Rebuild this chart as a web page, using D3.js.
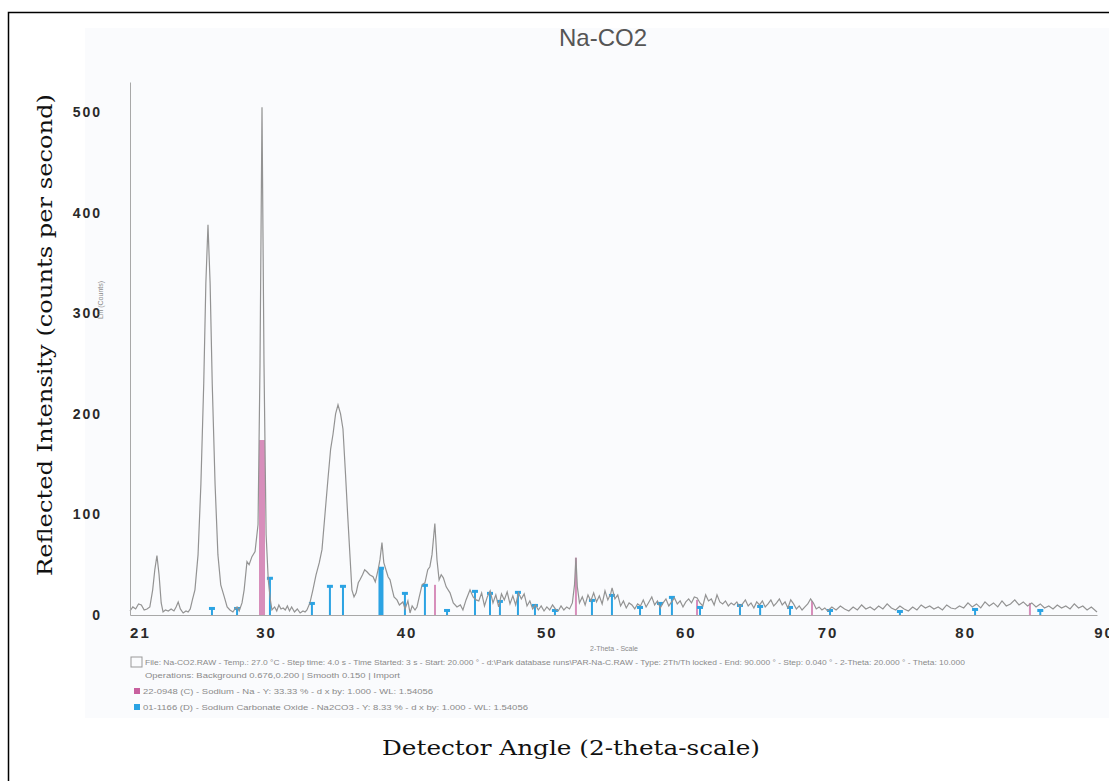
<!DOCTYPE html>
<html lang="en">
<head>
<meta charset="utf-8">
<title>Na-CO2</title>
<script src="https://cdn.jsdelivr.net/npm/d3@7"></script>
<style>
	body { margin: 0; background: #fff; }
	.tick text { font-family: "Liberation Sans", Arial, sans-serif; font-weight: bold; fill: #2a2a2a; letter-spacing: 2px; }
	.domain { stroke: #a8a8a8; }
	.note { font-family: "Liberation Sans", Arial, sans-serif; font-size: 7px; fill: #8a8a8a; }
</style>
</head>
<body>
<div id="chart"></div>
<script>
// measured scan, [2-theta, counts]
var scan = [
	[20.8,4],[21.0,8],[21.2,6],[21.4,11],[21.6,10],[21.8,5],[22.0,6],[22.2,8],[22.4,25],[22.55,45],[22.7,59],[22.85,40],
	[23.0,12],[23.13,3],[23.3,5],[23.5,4],[23.7,6],[23.9,4],[24.05,8],[24.2,13],[24.35,6],[24.55,2],[24.75,4],[24.9,3],
	[25.05,6],[25.2,15],[25.38,25],[25.6,60],[25.8,130],[26.0,230],[26.15,330],[26.3,388],[26.45,330],[26.6,230],[26.8,130],
	[27.0,60],[27.2,30],[27.45,18],[27.65,8],[27.85,5],[28.06,3],[28.2,6],[28.35,8],[28.5,4],[28.7,12],[28.85,25],
	[29.05,53],[29.2,50],[29.4,58],[29.62,63],[29.83,90],[29.97,250],[30.11,505],[30.25,250],[30.4,80],[30.55,35],[30.7,15],
	[30.81,5],[31.0,8],[31.15,4],[31.3,10],[31.45,6],[31.6,7],[31.75,5],[31.9,9],[32.05,4],[32.2,8],[32.4,3],[32.6,6],
	[32.8,2],[33.0,4],[33.15,3],[33.28,5],[33.49,12],[33.7,25],[33.92,40],[34.15,52],[34.34,65],[34.55,100],[34.76,135],
	[34.95,165],[35.12,180],[35.3,200],[35.47,209],[35.65,200],[35.82,185],[36.0,140],[36.15,100],[36.31,60],[36.45,25],
	[36.6,18],[36.75,22],[36.9,32],[37.02,35],[37.2,40],[37.35,45],[37.51,43],[37.7,40],[37.94,38],[38.1,33],[38.3,45],
	[38.43,55],[38.57,72],[38.7,52],[38.85,45],[39.0,38],[39.14,35],[39.3,25],[39.42,18],[39.63,15],[39.8,10],[40.05,13],
	[40.2,6],[40.4,14],[40.55,2],[40.7,9],[40.9,5],[41.04,8],[41.2,18],[41.4,30],[41.6,32],[41.8,45],[41.95,48],[42.1,60],
	[42.3,91],[42.45,55],[42.6,35],[42.75,40],[42.9,37],[43.1,28],[43.37,22],[43.6,12],[43.86,8],[44.1,10],[44.28,5],
	[44.5,15],[44.78,25],[45.0,18],[45.2,15],[45.4,14],[45.6,22],[45.8,9],[46.0,18],[46.2,24],[46.4,12],[46.6,20],[46.8,8],
	[47.0,21],[47.2,15],[47.4,23],[47.6,11],[47.8,19],[48.0,10],[48.2,22],[48.4,16],[48.6,21],[48.8,9],[49.0,14],[49.2,6],
	[49.4,10],[49.6,5],[49.8,9],[50.0,4],[50.2,8],[50.4,5],[50.6,10],[50.8,6],[51.0,4],[51.2,9],[51.4,5],[51.6,8],[51.8,6],
	[52.0,12],[52.15,30],[52.25,57],[52.35,28],[52.5,12],[52.7,18],[52.9,10],[53.1,20],[53.3,14],[53.5,22],[53.7,13],
	[53.9,19],[54.1,11],[54.3,24],[54.5,15],[54.7,21],[54.8,27],[55.0,16],[55.2,20],[55.4,9],[55.6,14],[55.8,7],[56.0,12],
	[56.2,10],[56.4,6],[56.6,11],[56.8,9],[57.0,15],[57.2,8],[57.4,13],[57.6,18],[57.8,10],[58.0,14],[58.2,7],[58.4,12],
	[58.6,16],[58.8,9],[59.0,13],[59.2,17],[59.4,11],[59.6,14],[59.8,8],[60.0,13],[60.2,16],[60.4,12],[60.6,18],[60.8,17],
	[61.0,12],[61.2,9],[61.4,20],[61.6,14],[61.8,16],[62.0,10],[62.2,20],[62.4,13],[62.6,11],[62.8,14],[63.0,9],[63.2,12],
	[63.4,10],[63.6,13],[63.8,8],[64.0,11],[64.2,15],[64.4,9],[64.6,12],[64.8,7],[65.0,13],[65.2,10],[65.4,14],[65.6,8],
	[65.8,11],[66.0,15],[66.2,9],[66.4,12],[66.6,16],[66.8,10],[67.0,13],[67.2,7],[67.4,15],[67.6,11],[67.8,6],[68.0,9],
	[68.2,5],[68.4,8],[68.6,11],[68.8,16],[69.0,12],[69.2,6],[69.4,8],[69.6,5],[69.8,7],[70.0,4],[70.3,8],[70.6,5],[70.9,9],
	[71.2,6],[71.5,4],[71.8,8],[72.1,5],[72.4,10],[72.7,6],[73.0,8],[73.3,5],[73.6,9],[73.9,6],[74.2,11],[74.5,7],[74.8,5],
	[75.1,9],[75.4,6],[75.7,4],[76.0,8],[76.3,5],[76.6,10],[76.9,7],[77.2,9],[77.5,6],[77.8,8],[78.1,5],[78.4,10],[78.7,7],
	[79.0,6],[79.3,9],[79.6,7],[79.9,12],[80.2,8],[80.5,11],[80.8,7],[81.1,13],[81.4,9],[81.7,12],[82.0,8],[82.3,14],
	[82.6,9],[82.9,11],[83.2,15],[83.5,10],[83.8,13],[84.1,9],[84.4,12],[84.7,8],[85.0,11],[85.3,7],[85.6,9],[85.9,6],
	[86.2,10],[86.5,7],[86.8,9],[87.1,6],[87.4,11],[87.7,7],[88.0,9],[88.3,5],[88.6,8],[89.0,3]
];

// reference patterns, [2-theta, counts]
var sodiumSticks = [[30.11,174],[42.31,30],[52.25,57],[60.79,15],[68.9,14],[84.27,12]];
var carbonateSticks = [
	[26.58,7],[28.35,7],[30.67,37],[33.63,12],[34.9,29],[35.82,29],[38.5,47],[40.19,22],[41.6,30],[43.16,5],
	[45.13,24],[46.19,22],[46.89,14],[48.16,23],[49.36,10],[50.77,5],[53.38,15],[54.79,20],[56.77,8],[58.18,12],
	[59.02,18],[61.0,8],[63.82,10],[65.24,9],[67.35,8],[70.17,5],[75.1,4],[80.4,6],[85.0,5]
];

var yTicks = [0, 100, 200, 300, 400, 500];
var xTickValues = [21.5, 30.4, 40.3, 50.2, 60, 70, 79.7, 89.5];
var xTickLabels = ["21", "30", "40", "50", "60", "70", "80", "90"];

var noteLines = [
	"File: Na-CO2.RAW - Temp.: 27.0 \u00b0C - Step time: 4.0 s - Time Started: 3 s - Start: 20.000 \u00b0 - d:\\Park database runs\\PAR-Na-C.RAW - Type: 2Th/Th locked - End: 90.000 \u00b0 - Step: 0.040 \u00b0 - 2-Theta: 20.000 \u00b0 - Theta: 10.000",
	"Operations: Background 0.676,0.200 | Smooth 0.150 | Import",
	"22-0948 (C) - Sodium - Na - Y: 33.33 % - d x by: 1.000 - WL: 1.54056",
	"01-1166 (D) - Sodium Carbonate Oxide - Na2CO3 - Y: 8.33 % - d x by: 1.000 - WL: 1.54056"
];

var w = 1109, h = 781;
var pink = "#c8609e", blue = "#2ba3e3";

var svg = d3.select("#chart").append("svg")
	.attr("width", w).attr("height", h);

// scanned panel tint and frame
svg.append("rect").attr("x", 85).attr("y", 28).attr("width", 1024).attr("height", 690).attr("fill", "#fafbfd");
svg.append("path").attr("d", "M8.5," + h + "V12.5H" + w).attr("fill", "none").attr("stroke", "#000").attr("stroke-width", 1.5);

var x = d3.scaleLinear().domain([20.8, 89]).range([130, 1097]);
var y = d3.scaleLinear().domain([0, 530]).range([615, 82]);

// reference sticks
svg.selectAll(".na").data(sodiumSticks).enter().append("rect")
	.attr("x", function(d) { return x(d[0]) - (d[1] > 100 ? 3 : 1); })
	.attr("width", function(d) { return d[1] > 100 ? 6 : 2; })
	.attr("y", function(d) { return y(d[1]); })
	.attr("height", function(d) { return y(0) - y(d[1]); })
	.attr("fill", pink).attr("opacity", 0.7);

svg.selectAll(".co3").data(carbonateSticks).enter().append("rect")
	.attr("x", function(d) { return x(d[0]) - (d[1] > 40 ? 2.5 : 1); })
	.attr("width", function(d) { return d[1] > 40 ? 5 : 2; })
	.attr("y", function(d) { return y(d[1]); })
	.attr("height", function(d) { return y(0) - y(d[1]); })
	.attr("fill", blue);

svg.selectAll(".cap").data(carbonateSticks).enter().append("rect")
	.attr("x", function(d) { return x(d[0]) - 3; })
	.attr("y", function(d) { return y(d[1]) - 1; })
	.attr("width", 6).attr("height", 3)
	.attr("fill", blue);

// scan line
var line = d3.line()
	.x(function(d) { return x(d[0]); })
	.y(function(d) { return y(d[1]); });

svg.append("path").datum(scan)
	.attr("d", line)
	.attr("fill", "none")
	.attr("stroke", "#939393")
	.attr("stroke-width", 1.2);

// axes
svg.append("g")
	.attr("transform", "translate(0," + y(0) + ")")
	.call(d3.axisBottom(x).tickValues(xTickValues).tickSize(0).tickPadding(12)
		.tickFormat(function(d, i) { return xTickLabels[i]; }))
	.selectAll("text").style("font-size", "15px");

svg.append("g")
	.attr("transform", "translate(" + x(20.8) + ",0)")
	.call(d3.axisLeft(y).tickValues(yTicks).tickSize(0).tickPadding(28))
	.selectAll("text").style("font-size", "14px");

// titles
svg.append("text")
	.attr("x", 603).attr("y", 46)
	.attr("text-anchor", "middle")
	.style("font-family", "'Liberation Sans', Arial, sans-serif")
	.style("font-size", "24px")
	.style("fill", "#555")
	.text("Na-CO2");

svg.append("text")
	.attr("transform", "translate(52,335) rotate(-90)")
	.attr("text-anchor", "middle")
	.attr("textLength", 482).attr("lengthAdjust", "spacingAndGlyphs")
	.style("font-family", "'DejaVu Serif', 'Liberation Serif', serif")
	.style("font-size", "21px")
	.style("fill", "#111")
	.text("Reflected Intensity (counts per second)");

svg.append("text")
	.attr("x", 571).attr("y", 755)
	.attr("text-anchor", "middle")
	.attr("textLength", 378).attr("lengthAdjust", "spacingAndGlyphs")
	.style("font-family", "'DejaVu Serif', 'Liberation Serif', serif")
	.style("font-size", "21px")
	.style("fill", "#111")
	.text("Detector Angle (2-theta-scale)");

// software captions
svg.append("text").attr("class", "note")
	.attr("x", 614).attr("y", 651).attr("text-anchor", "middle")
	.text("2-Theta - Scale");

svg.append("text").attr("class", "note")
	.attr("transform", "translate(103,300) rotate(-90)").attr("text-anchor", "middle")
	.text("Lin (Counts)");

var noteX = [145, 145, 143, 143];
var noteY = [665, 678, 694, 710];
var noteLen = [820, 255, 290, 385];

svg.selectAll(".noteline").data(noteLines).enter().append("text")
	.attr("class", "note")
	.attr("x", function(d, i) { return noteX[i]; })
	.attr("y", function(d, i) { return noteY[i]; })
	.attr("textLength", function(d, i) { return noteLen[i]; })
	.attr("lengthAdjust", "spacingAndGlyphs")
	.text(function(d) { return d; });

svg.append("rect").attr("x", 131).attr("y", 657).attr("width", 11).attr("height", 10)
	.attr("fill", "none").attr("stroke", "#999");
svg.append("rect").attr("x", 134).attr("y", 688).attr("width", 6).attr("height", 6).attr("fill", pink);
svg.append("rect").attr("x", 134).attr("y", 704).attr("width", 6).attr("height", 6).attr("fill", blue);
</script>
</body>
</html>
